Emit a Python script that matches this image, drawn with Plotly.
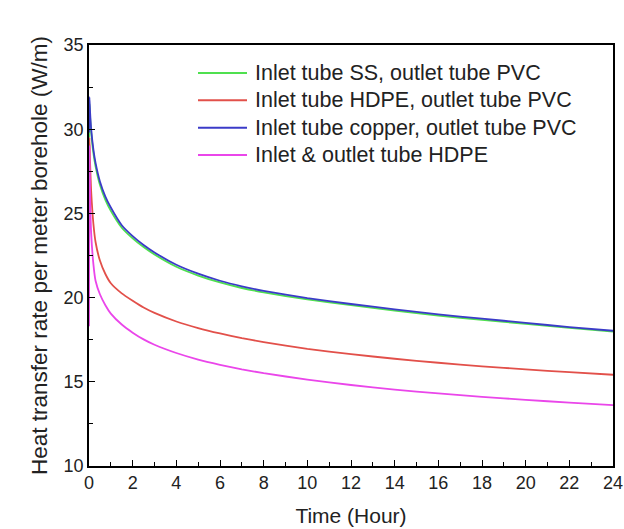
import plotly.graph_objects as go

# Time axis (hours), denser near start-up
time_h = [0, 0.02, 0.05, 0.1, 0.2, 0.3, 0.5, 0.75, 1, 1.5, 2, 2.5, 3, 4, 5, 6, 7, 8,
          10, 12, 14, 16, 18, 20, 22, 24]

# Heat transfer rate per meter borehole (W/m)
ss_pvc = [29.5, 31.5, 30.7, 29.8, 28.6, 27.8, 26.7, 25.8, 25.15, 24.15, 23.52, 23.0, 22.56,
          21.83, 21.31, 20.9, 20.57, 20.31, 19.89, 19.55, 19.23, 18.93, 18.68, 18.44, 18.2, 17.98]
hdpe_pvc = [24.0, 29.5, 28.0, 26.3, 24.4, 23.3, 22.2, 21.4, 20.85, 20.25, 19.81, 19.41, 19.09,
            18.58, 18.19, 17.87, 17.59, 17.36, 16.96, 16.64, 16.37, 16.13, 15.92, 15.74, 15.57, 15.42]
copper_pvc = [29.8, 31.9, 31.0, 30.0, 28.8, 28.0, 26.9, 26.0, 25.35, 24.3, 23.65, 23.12, 22.68,
              21.95, 21.42, 21.0, 20.67, 20.4, 19.97, 19.62, 19.3, 19.0, 18.75, 18.5, 18.25, 18.03]
hdpe_hdpe = [18.3, 29.0, 26.0, 23.8, 22.0, 21.0, 20.2, 19.55, 19.05, 18.4, 17.92, 17.52, 17.2,
             16.71, 16.32, 16.01, 15.74, 15.51, 15.13, 14.81, 14.54, 14.31, 14.11, 13.93, 13.76, 13.61]

series_names = [
    "Inlet tube SS, outlet tube PVC",
    "Inlet tube HDPE, outlet tube PVC",
    "Inlet tube copper, outlet tube PVC",
    "Inlet & outlet tube HDPE",
]
series_values = [ss_pvc, hdpe_pvc, copper_pvc, hdpe_hdpe]
series_colors = ["#4fe04f", "#e2504a", "#3b3bc8", "#ea46ea"]

W, H = 624, 529
ML, MR, MT, MB = 89, 11, 45, 63
PW, PH = W - ML - MR, H - MT - MB


def px_to_paper(px, py):
    return (px - ML) / PW, (H - MB - py) / PH


fig = go.Figure()
for name, vals, color in zip(series_names, series_values, series_colors):
    fig.add_trace(go.Scatter(x=time_h, y=vals, mode="lines", name=name, showlegend=False,
                             line=dict(color=color, width=1.8, shape="spline", smoothing=0.5)))

font_family = "Liberation Sans, Arial, sans-serif"

# Legend block: sample line plus label for each series
legend_row_y = [73, 100.3, 127.7, 155]
for name, color, ry in zip(series_names, series_colors, legend_row_y):
    x0, y0 = px_to_paper(198, ry)
    x1, _ = px_to_paper(247, ry)
    fig.add_shape(type="line", xref="paper", yref="paper", x0=x0, x1=x1, y0=y0, y1=y0,
                  line=dict(color=color, width=2))
    tx, ty = px_to_paper(253, ry)
    fig.add_annotation(xref="paper", yref="paper", x=tx, y=ty, text=name, showarrow=False,
                       xanchor="left", yanchor="middle",
                       font=dict(family=font_family, size=21.5, color="#222"))

axis_common = dict(
    showline=True, linecolor="black", linewidth=1.5, mirror=True,
    ticks="inside", ticklen=6, tickwidth=1.3, tickcolor="black",
    showgrid=False, zeroline=False, automargin=False, ticklabeloverflow="allow",
    tickfont=dict(family=font_family, size=18, color="#222"),
)

fig.update_xaxes(range=[0, 24], dtick=2, tick0=0,
                 minor=dict(dtick=1, ticks="inside", ticklen=4, tickcolor="black", tickwidth=1.2),
                 title=dict(text="Time (Hour)", font=dict(family=font_family, size=21, color="#222"),
                            standoff=16),
                 **axis_common)
fig.update_yaxes(range=[10, 35], dtick=5, tick0=10,
                 minor=dict(dtick=2.5, ticks="inside", ticklen=4, tickcolor="black", tickwidth=1.2),
                 title=dict(text="Heat transfer rate per meter borehole (W/m)",
                            font=dict(family=font_family, size=22.5, color="#222"), standoff=10),
                 **axis_common)

fig.update_layout(
    width=W, height=H,
    margin=dict(l=ML, r=MR, t=MT, b=MB),
    paper_bgcolor="white", plot_bgcolor="white",
    showlegend=False,
)

fig.write_html("out.html")
